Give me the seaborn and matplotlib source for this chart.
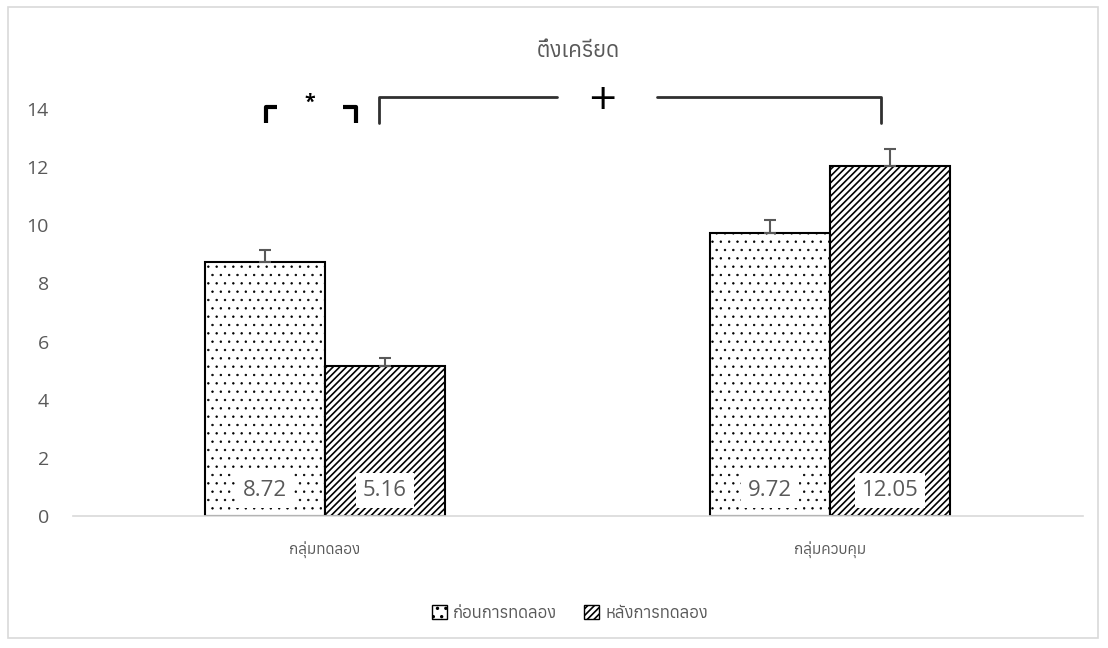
import numpy as np
import pandas as pd
import matplotlib
matplotlib.use("Agg")
import matplotlib.pyplot as plt
from matplotlib import font_manager
from matplotlib.ft2font import FT2Font
from matplotlib.patches import Patch, Rectangle
import seaborn as sns

# data
categories = ["กลุ่มทดลอง", "กลุ่มควบคุม"]
series = ["ก่อนการทดลอง", "หลังการทดลอง"]
before = [8.72, 9.72]
after = [5.16, 12.05]
err_before = [0.43, 0.46]
err_after = [0.28, 0.56]
title = "ตึงเครียด"
y_ticks = [0, 2, 4, 6, 8, 10, 12, 14]

# find an installed family that can draw Thai, regular weight preferred
thai_family = None
candidates = []
for f in font_manager.fontManager.ttflist:
    try:
        if 0x0E01 in FT2Font(f.fname).get_charmap():
            regular = f.weight in (400, "normal", "regular", "book") and f.style == "normal"
            candidates.append((0 if regular else 1, f.name))
    except Exception:
        pass
if candidates:
    thai_family = sorted(candidates)[0][1]

sns.set_theme(style="white")
num_font = ["Open Sans", "DejaVu Sans"]
thai_font = ([thai_family] if thai_family else []) + ["DejaVu Sans"]
plt.rcParams["font.family"] = thai_font
plt.rcParams["hatch.linewidth"] = 1.2
plt.rcParams["hatch.color"] = "black"

grey = "#595959"

df = pd.DataFrame({
    "group": categories * 2,
    "phase": [series[0]] * 2 + [series[1]] * 2,
    "score": before + after,
    "err": err_before + err_after,
})

fig = plt.figure(figsize=(11.08, 6.48), dpi=100)
ax = fig.add_axes([72.5 / 1108, 1 - 516 / 648, 1010 / 1108, (516 - 109) / 648])

sns.barplot(data=df, x="group", y="score", hue="phase", order=categories,
            hue_order=series, width=0.476, gap=0, palette=["white", "white"],
            edgecolor="black", linewidth=1.5, errorbar=None, legend=False, ax=ax)

hatches = {series[0]: "..", series[1]: "/////"}
hatch_lw = {series[0]: 0.5, series[1]: 1.2}
bar_sets = list(ax.containers)
for i, cont in enumerate(bar_sets):
    sub = df[df["phase"] == series[i]].set_index("group").loc[categories]
    xs = [b.get_x() + b.get_width() / 2 for b in cont]
    for b in cont:
        b.set_hatch(hatches[series[i]])
        if hasattr(b, "set_hatch_linewidth"):
            b.set_hatch_linewidth(hatch_lw[series[i]])
    ax.errorbar(xs, sub["score"], yerr=[np.zeros(len(xs)), sub["err"]],
                fmt="none", ecolor=grey, elinewidth=1.5, capsize=4, capthick=1.5,
                zorder=5)
    for x, v in zip(xs, sub["score"]):
        ax.text(x, 0.88, f"{v:.2f}", ha="center", va="center", fontsize=16,
                color=grey, family=num_font, zorder=6,
                bbox=dict(facecolor="white", edgecolor="none", pad=5))

ax.set_xlim(-0.5, 1.5)
ax.set_ylim(0, 14)
ax.set_yticks(y_ticks)
ax.set_yticklabels([str(t) for t in y_ticks], family=num_font, fontsize=14, color=grey)
ax.tick_params(axis="y", length=0, pad=17)
ax.tick_params(axis="x", length=0, pad=18, labelsize=11, labelcolor=grey)
ax.set_xlabel("")
ax.set_ylabel("")
for s in ["left", "right", "top"]:
    ax.spines[s].set_visible(False)
ax.spines["bottom"].set_color("#d9d9d9")
ax.spines["bottom"].set_linewidth(1.2)

# significance marks above the bars
ax.plot([-0.117, -0.117, -0.095], [13.52, 14.07, 14.07], color="black", lw=3,
        clip_on=False, solid_capstyle="butt")
ax.plot([0.036, 0.061, 0.061], [14.07, 14.07, 13.52], color="black", lw=3,
        clip_on=False, solid_capstyle="butt")
ax.text(-0.03, 14.2, "*", ha="center", va="center", fontsize=14,
        fontweight="bold", color="black", family=num_font)
ax.plot([0.107, 0.107, 0.459], [13.52, 14.41, 14.41], color="#303030", lw=2,
        clip_on=False)
ax.plot([0.657, 1.101, 1.101], [14.41, 14.41, 13.52], color="#303030", lw=2,
        clip_on=False)
ax.text(0.55, 14.36, "+", ha="center", va="center", fontsize=26,
        color="black", family=["DejaVu Sans"])

fig.text(578 / 1108, 1 - 51 / 648, title, ha="center", va="center",
         fontsize=16, color=grey)

handles = [Patch(facecolor="white", edgecolor="black", hatch=hatches[s], label=s)
           for s in series]
fig.legend(handles=handles, loc="center", bbox_to_anchor=(570 / 1108, 1 - 613 / 648),
           ncol=2, frameon=False, fontsize=12, handlelength=0.9, handleheight=0.9,
           handletextpad=0.4, columnspacing=1.6, labelcolor=grey)

fig.patches.append(Rectangle((8 / 1108, 1 - 638 / 648), 1090 / 1108, 631 / 648,
                             transform=fig.transFigure, fill=False,
                             edgecolor="#d9d9d9", lw=1.2))

fig.savefig("out.png", dpi=100, facecolor="white")
